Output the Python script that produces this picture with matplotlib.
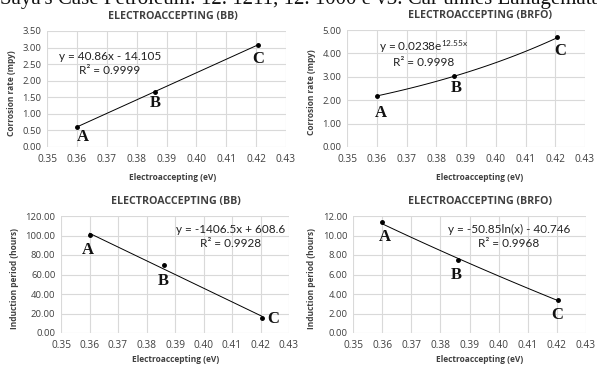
import matplotlib.pyplot as plt
import numpy as np

plt.rcParams['mathtext.default'] = 'regular'

# === данные ===
x_points = [0.360, 0.386, 0.4205]
point_names = ['A', 'B', 'C']

corr_bb = [0.61, 1.65, 3.09]
corr_brfo = [2.20, 3.02, 4.70]
ind_bb = [100.5, 70.0, 15.0]
ind_brfo = [11.35, 7.45, 3.40]

x_ticks = [0.35, 0.36, 0.37, 0.38, 0.39, 0.40, 0.41, 0.42, 0.43]
corr_bb_ticks = [0, 0.5, 1.0, 1.5, 2.0, 2.5, 3.0, 3.5]
corr_brfo_ticks = [0, 1, 2, 3, 4, 5]
ind_bb_ticks = [0, 20, 40, 60, 80, 100, 120]
ind_brfo_ticks = [0, 2, 4, 6, 8, 10, 12]

eq_corr_bb = ['y = 40.86x - 14.105', 'R² = 0.9999']
eq_corr_brfo = ['y = 0.0238e$^{12.55x}$', 'R² = 0.9998']
eq_ind_bb = ['y = -1406.5x + 608.6', 'R² = 0.9928']
eq_ind_brfo = ['y = -50.85ln(x) - 40.746', 'R² = 0.9968']

W, H = 597, 366
fig = plt.figure(figsize=(W / 100, H / 100), dpi=100)
fig.patch.set_facecolor('white')

TXT = '#404040'


def px_axes(left, right, top, bottom):
    return fig.add_axes([left / W, 1 - bottom / H, (right - left) / W, (bottom - top) / H])


def setup(ax, yticks, title, ylabel, title_x, ylabel_x, xlab_off):
    ax.set_xlim(0.35, 0.43)
    ax.set_ylim(yticks[0], yticks[-1])
    ax.set_xticks(x_ticks)
    ax.set_xticklabels([f'{t:.2f}' for t in x_ticks])
    ax.set_yticks(yticks)
    ax.set_yticklabels([f'{t:.2f}' for t in yticks])
    ax.grid(True, color='#d9d9d9', linewidth=0.8)
    ax.set_axisbelow(True)
    for s in ax.spines.values():
        s.set_visible(False)
    ax.tick_params(axis='x', length=0, labelsize=7.3, colors=TXT, pad=5)
    ax.tick_params(axis='y', length=0, labelsize=6.8, colors=TXT, pad=4)
    for lab in ax.get_xticklabels() + ax.get_yticklabels():
        lab.set_fontfamily('Open Sans')
    bb = ax.get_position()
    fig.text(title_x / W, bb.y1 + 9 / H, title, ha='center', va='bottom',
             fontsize=7.7, fontweight='bold', color=TXT, family='Open Sans')
    fig.text(title_x / W, bb.y0 - xlab_off / H, 'Electroaccepting (eV)', ha='center', va='center',
             fontsize=6, fontweight='bold', color=TXT, family='Open Sans')
    fig.text(ylabel_x / W, (bb.y0 + bb.y1) / 2 - 4 / H, ylabel, rotation=90, ha='center',
             va='center', fontsize=6, fontweight='bold', color=TXT, family='Open Sans')


def points(ax, ys, offsets):
    ax.plot(x_points, ys, 'o', color='black', markersize=2.5, zorder=3)
    for name, xv, yv, off in zip(point_names, x_points, ys, offsets):
        ax.annotate(name, (xv, yv), xytext=off, textcoords='offset pixels',
                    ha='center', va='center', fontsize=12, fontweight='bold',
                    family='Liberation Serif', color='#111111')


def equation(lines, x, y):
    fig.text(x / W, 1 - y / H, lines[0] + '\n' + lines[1],
             ha='center', va='top', fontsize=8.5, family='Lato', color='#222222',
             linespacing=1.3)


xf = np.linspace(x_points[0], x_points[-1], 60)

# --- коррозия BB ---
ax1 = px_axes(47, 286, 31, 147)
setup(ax1, corr_bb_ticks, 'ELECTROACCEPTING (BB)', 'Corrosion rate (mpy)', 173, 12, 31)
ax1.plot(xf, 40.86 * xf - 14.105, color='black', linewidth=0.7)
points(ax1, corr_bb, [(6, -10), (1, -11), (1, -14)])
equation(eq_corr_bb, 110, 51)

# --- коррозия BRFO ---
ax2 = px_axes(347, 585, 30, 147)
setup(ax2, corr_brfo_ticks, 'ELECTROACCEPTING (BRFO)', 'Corrosion rate (mpy)', 480, 312, 31)
ax2.plot(xf, 0.0238 * np.exp(12.55 * xf), color='black', linewidth=0.7)
points(ax2, corr_brfo, [(4, -17), (2, -12), (3, -14)])
equation(eq_corr_brfo, 424, 38)

# --- индукционный период BB ---
ax3 = px_axes(61, 289, 216, 333)
setup(ax3, ind_bb_ticks, 'ELECTROACCEPTING (BB)', 'Induction period (hours)', 176, 15, 27)
ax3.plot(xf, -1406.5 * xf + 608.6, color='black', linewidth=0.7)
points(ax3, ind_bb, [(-2, -15), (0, -16), (11, -1)])
equation(eq_ind_bb, 231, 224)

# --- индукционный период BRFO ---
ax4 = px_axes(353, 586, 216, 333)
setup(ax4, ind_brfo_ticks, 'ELECTROACCEPTING (BRFO)', 'Induction period (hours)', 480, 312, 27)
ax4.plot(xf, -50.85 * np.log(xf) - 40.746, color='black', linewidth=0.7)
points(ax4, ind_brfo, [(3, -15), (-2, -15), (-1, -15)])
equation(eq_ind_brfo, 509, 224)

# обрезанная строка текста статьи сверху
fig.text(0.0, 1 - 4 / H, "Saya's Case Petroleum: 12. 1211, 12. 1000 e v3. Car unnes Lallagematal",
         ha='left', va='baseline', fontsize=15, family='Liberation Serif', color='#111111')

fig.savefig('out.png', dpi=100)
